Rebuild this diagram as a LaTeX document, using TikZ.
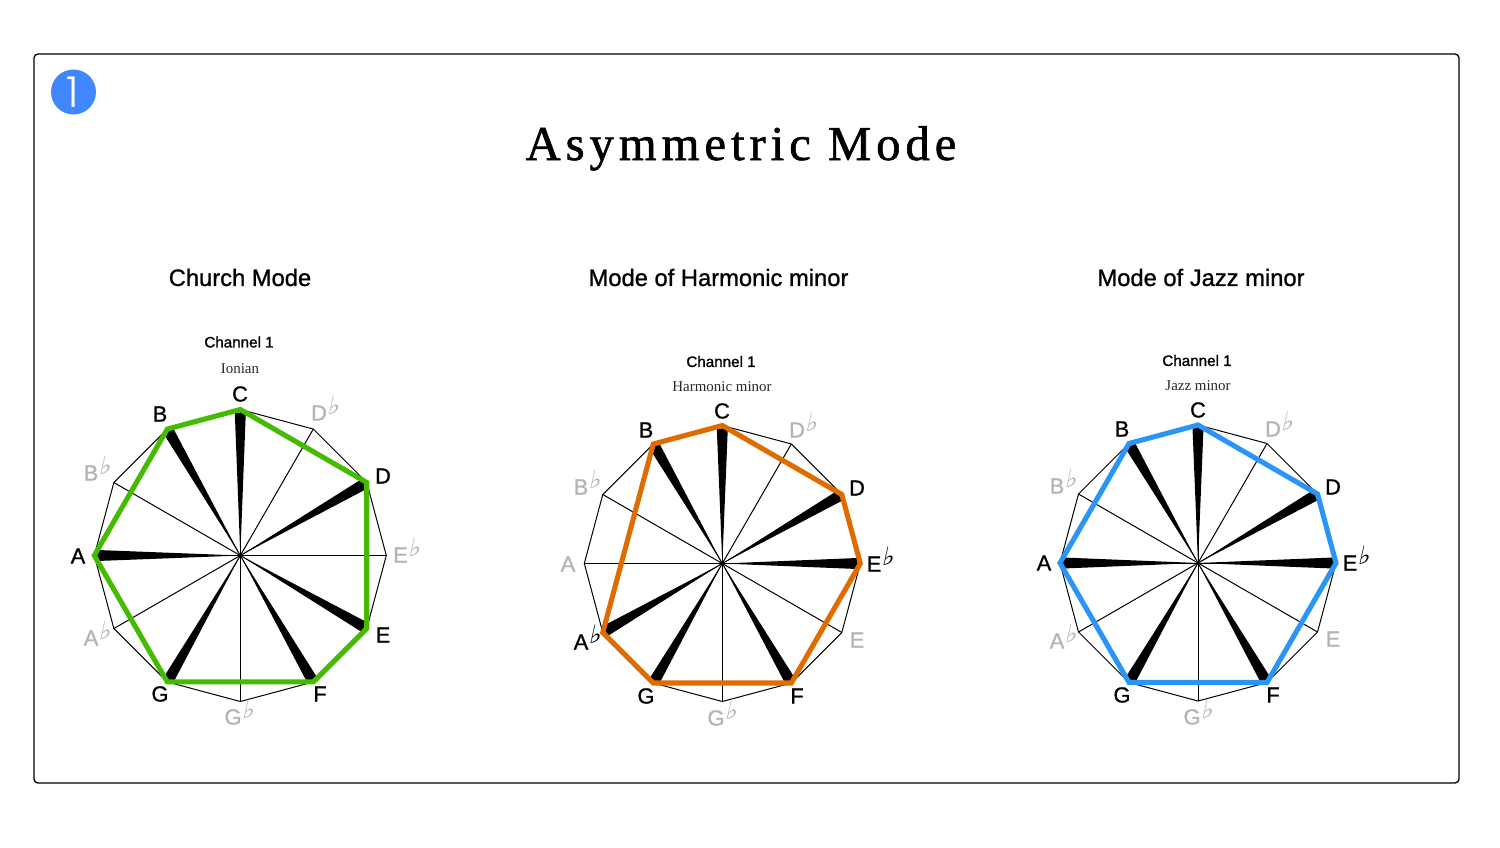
\documentclass[tikz,border=0pt]{standalone}
\usepackage{fontspec}
\setmainfont{Liberation Sans}
\newfontfamily\titlefont[LetterSpace=10.2,FakeBold=1.2]{Liberation Serif}
\newfontfamily\subfont{Liberation Serif}
\newfontfamily\numfont[UprightFont=* Light]{Poppins}
\newfontfamily\flatfont[FakeSlant=0.22]{DejaVu Sans}
\definecolor{gmode}{HTML}{45BB00}
\definecolor{omode}{HTML}{E06C00}
\definecolor{bmode}{HTML}{2B95F5}
\definecolor{mute}{HTML}{B4B4B4}
\definecolor{badge}{HTML}{3F86FF}
\newcommand{\fl}{\smash{\raisebox{0.26em}{\flatfont\fontsize{19}{19}\selectfont ♭}}}
\tikzset{
  x=0.75pt,y=-0.75pt,
  spoke/.style={line width=0.75pt,black},
  rim/.style={line width=0.75pt,black,line join=miter},
  wedge/.style={fill=black,draw=none},
  mode/.style={line width=3.8pt,line join=miter},
  notelab/.style={inner sep=0pt,font=\fontsize{16.4}{17}\selectfont\addfontfeature{FakeBold=1},text=black},
  mutelab/.style={notelab,text=mute},
  heading/.style={inner sep=0pt,font=\fontsize{17.8}{19}\selectfont\addfontfeature{FakeBold=1}},
  chan/.style={inner sep=0pt,font=\fontsize{11.4}{12}\selectfont\addfontfeature{FakeBold=1.2}},
  sub/.style={inner sep=0pt,font=\subfont\fontsize{11.2}{12}\selectfont,text=black!85}
}
\usetikzlibrary{calc}
% #1 prefix, #2 cx, #3 cy, #4 R
\newcommand{\wheel}[4]{%
  \coordinate (#1o) at (#2,#3);
  \foreach \n/\a in {C/90,Db/60,D/30,Eb/0,E/-30,F/-60,Gb/-90,G/-120,Ab/-150,A/180,Bb/150,B/120}{
    \coordinate (#1\n) at ($(#1o)+({#4*cos(\a)},{-#4*sin(\a)})$);
    \draw[spoke] (#1o) -- (#1\n);
  }
  \draw[rim] (#1C)--(#1Db)--(#1D)--(#1Eb)--(#1E)--(#1F)--(#1Gb)--(#1G)--(#1Ab)--(#1A)--(#1Bb)--(#1B)--cycle;
}
\newcommand{\wedgeto}[3]{% prefix, angle, R
  \fill[wedge] ($(#1o)+({(#3-3)*cos(#2)-5.5*sin(#2)},{-(#3-3)*sin(#2)-5.5*cos(#2)})$)
    -- (#1o)
    -- ($(#1o)+({(#3-3)*cos(#2)+5.5*sin(#2)},{-(#3-3)*sin(#2)+5.5*cos(#2)})$) -- cycle;
}
\begin{document}
\begin{tikzpicture}
\useasboundingbox (0,0) rectangle (1500,847);
\fill[white] (0,0) rectangle (1500,847);
\draw[line width=1pt,rounded corners=3pt] (34,54) rectangle (1459,783);
\node[circle,fill=badge,minimum size=33.75pt,inner sep=0pt] (badge) at (73.5,92) {};
\node[inner sep=0pt,text=white,font=\numfont\fontsize{32}{32}\selectfont] (badgenum) at (73,92) {1};
\node[inner sep=0pt,anchor=base,font=\titlefont\fontsize{36.5}{38}\selectfont] (title) at (741,160) {Asymmetric Mode};
\node[heading] (h1) at (240,277.5) {Church Mode};
\node[heading] (h2) at (718.5,277.5) {Mode of Harmonic minor};
\node[heading] (h3) at (1201,277.5) {Mode of Jazz minor};
\node[chan] (c1) at (239,342) {Channel 1};
\node[chan] (c2) at (721,361.5) {Channel 1};
\node[chan] (c3) at (1197,360.5) {Channel 1};
\node[sub] (s1) at (240,368.5) {Ionian};
\node[sub] (s2) at (722,387) {Harmonic minor};
\node[sub] (s3) at (1198,386) {Jazz minor};
% wheel 1
\wheel{p}{240.3}{555.5}{146}
\foreach \a in {90,30,-30,-60,-120,180,120} {\wedgeto{p}{\a}{146}}
\draw[mode,gmode] (pC)--(pD)--(pE)--(pF)--(pG)--(pA)--(pB)--cycle;
\foreach \t/\x/\y/\s in {C/240/394/notelab,D/383/476/notelab,E/383/635/notelab,F/320/694/notelab,G/160/694/notelab,A/78/556/notelab,B/160/414/notelab,
 D\fl/325/413/mutelab,E\fl/406.5/555/mutelab,G\fl/239/717/mutelab,A\fl/97/638/mutelab,B\fl/97/473/mutelab}
  \node[\s] at (\x,\y) {\t};
% wheel 2
\wheel{q}{722.3}{563.5}{138}
\foreach \a in {90,30,0,-60,-120,-150,120} {\wedgeto{q}{\a}{138}}
\draw[mode,omode] (qC)--(qD)--(qEb)--(qF)--(qG)--(qAb)--(qB)--cycle;
\foreach \t/\x/\y/\s in {C/722/411/notelab,D/857/488/notelab,E\fl/880/564/notelab,F/797/696/notelab,G/646/696/notelab,A\fl/587/642/notelab,B/646/430/notelab,
 D\fl/803/430/mutelab,E/857/640/mutelab,G\fl/722/718/mutelab,A/568/564/mutelab,B\fl/587/487/mutelab}
  \node[\s] at (\x,\y) {\t};
% wheel 3
\wheel{r}{1198}{563}{138}
\foreach \a in {90,30,0,-60,-120,180,120} {\wedgeto{r}{\a}{138}}
\draw[mode,bmode] (rC)--(rD)--(rEb)--(rF)--(rG)--(rA)--(rB)--cycle;
\foreach \t/\x/\y/\s in {C/1198/410/notelab,D/1333/487/notelab,E\fl/1356/563/notelab,F/1273/695/notelab,G/1122/695/notelab,A/1044/563/notelab,B/1122/429/notelab,
 D\fl/1279/429/mutelab,E/1333/639/mutelab,G\fl/1198/717/mutelab,A\fl/1063/641/mutelab,B\fl/1063/486/mutelab}
  \node[\s] at (\x,\y) {\t};
\end{tikzpicture}
\end{document}
